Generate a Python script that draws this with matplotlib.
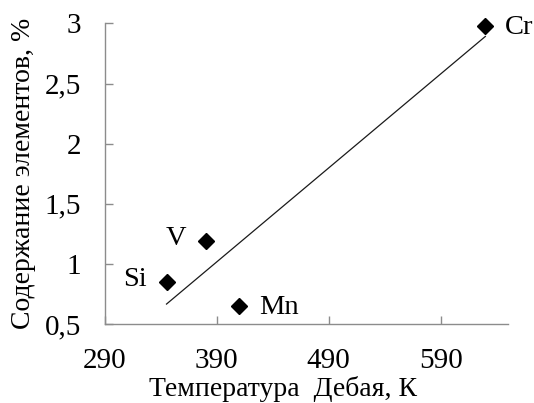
import numpy as np
import matplotlib
matplotlib.use("Agg")
import matplotlib.pyplot as plt
from matplotlib.ticker import FixedLocator, FuncFormatter

plt.rcParams['font.family'] = ['Liberation Serif', 'DejaVu Serif']

elements = ["Si", "V", "Mn", "Cr"]
debye_temp = [345, 380, 410, 630]
content = [0.85, 1.19, 0.65, 2.98]
label_side = ["left", "left", "right", "right"]
x_ticks = [290, 390, 490, 590]
y_ticks = [0.5, 1.0, 1.5, 2.0, 2.5, 3.0]

fig = plt.figure(figsize=(5.34, 4.03), dpi=100)
ax = fig.add_axes([0.1966, 0.196, 0.7542, 0.746])

x = np.array(debye_temp, dtype=float)
y = np.array(content, dtype=float)
k, b = np.polyfit(x, y, 1)
xl = np.array([x.min(), x.max()])
ax.plot(xl, k * xl + b, color='#1a1a1a', lw=0.9, zorder=2)

ax.plot(x, y, linestyle='none', marker='D', ms=7.8, color='black', zorder=3, clip_on=False)

for name, xi, yi, side in zip(elements, debye_temp, content, label_side):
    if side == "left":
        ax.annotate(name, (xi, yi), xytext=(-14, 2), textcoords='offset points',
                    ha='right', va='center', fontsize=20.5, annotation_clip=False)
    else:
        ax.annotate(name, (xi, yi), xytext=(14, -1), textcoords='offset points',
                    ha='left', va='center', fontsize=20.5, annotation_clip=False)

ax.set_xlim(290, 650)
ax.set_ylim(0.5, 3.0)
ax.xaxis.set_major_locator(FixedLocator(x_ticks))
ax.yaxis.set_major_locator(FixedLocator(y_ticks))
ax.yaxis.set_major_formatter(FuncFormatter(lambda v, p: ('%g' % v).replace('.', ',')))

for s in ['top', 'right']:
    ax.spines[s].set_visible(False)
for s in ['left', 'bottom']:
    ax.spines[s].set_color('#8c8c8c')
    ax.spines[s].set_linewidth(1.0)

ax.tick_params(axis='both', direction='in', length=6, width=1.0, color='#8c8c8c',
               labelsize=21, labelcolor='black')
ax.tick_params(axis='x', pad=17)
ax.tick_params(axis='y', pad=17)

fig.text(283 / 534, 1 - 389 / 403, "Температура  Дебая, К", ha='center', va='center', fontsize=20)
fig.text(24 / 534, 1 - 173 / 403, "Содержание элементов, %", ha='center', va='center',
         rotation=90, fontsize=20)

fig.savefig("out.png", dpi=100)
